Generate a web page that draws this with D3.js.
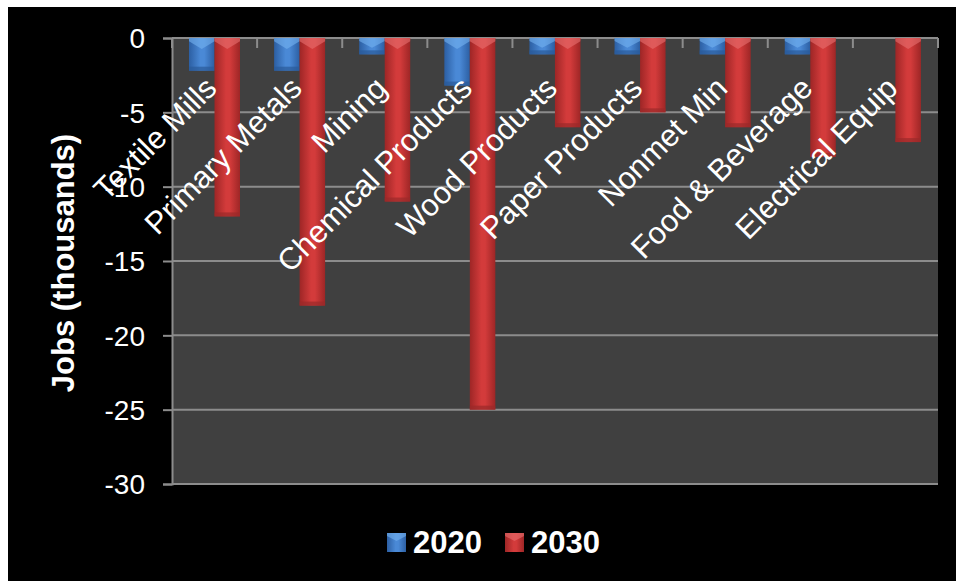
<!DOCTYPE html>
<html>
<head>
<meta charset="utf-8">
<script src="https://cdn.jsdelivr.net/npm/d3@7"></script>
<style>
  html, body { margin: 0; padding: 0; background: #ffffff; }
  svg { display: block; }
  text { font-family: "Liberation Sans", Arial, sans-serif; }
</style>
</head>
<body>
<svg id="chart" width="956" height="581"></svg>
<script>
// Projected change in jobs (thousands) by industry
const categories = ["Textile Mills", "Primary Metals", "Mining", "Chemical Products",
  "Wood Products", "Paper Products", "Nonmet Min", "Food & Beverage", "Electrical Equip"];
const seriesNames = ["2020", "2030"];
const jobs2020 = [-2.2, -2.2, -1.1, -3.2, -1.1, -1.1, -1.1, -1.1, 0];
const jobs2030 = [-12, -18, -11, -25, -6, -5, -6, -8, -7];
const yTicks = [0, -5, -10, -15, -20, -25, -30];

const svg = d3.select("#chart");
const W = 956, H = 581;
const plot = { left: 172, right: 938, top: 38, bottom: 484 };

// Black chart frame
svg.append("rect").attr("x", 8).attr("y", 7).attr("width", W - 8).attr("height", H - 7).attr("fill", "#000");

// Gradients for the bevelled bars
const defs = svg.append("defs");
const palettes = {
  "2020": { edge: "#2c5fa3", mid: "#4a89d6", hi: "#74b2f0", low: "#2a5a98" },
  "2030": { edge: "#9e2626", mid: "#d33b3b", hi: "#e87070", low: "#9a2a2a" }
};
seriesNames.forEach(s => {
  const g = defs.append("linearGradient").attr("id", "g" + s).attr("x1", 0).attr("x2", 1).attr("y1", 0).attr("y2", 0);
  g.append("stop").attr("offset", "0%").attr("stop-color", palettes[s].edge);
  g.append("stop").attr("offset", "45%").attr("stop-color", palettes[s].mid);
  g.append("stop").attr("offset", "60%").attr("stop-color", palettes[s].mid);
  g.append("stop").attr("offset", "100%").attr("stop-color", palettes[s].edge);
});

const x0 = d3.scaleBand().domain(categories).range([plot.left, plot.right]).padding(0);
const x1 = d3.scaleBand().domain(seriesNames).range([17, 68]).padding(0);
const y = d3.scaleLinear().domain([0, -30]).range([plot.top, plot.bottom]);

// Plot background
svg.append("rect").attr("x", plot.left).attr("y", plot.top)
  .attr("width", plot.right - plot.left).attr("height", plot.bottom - plot.top)
  .attr("fill", "#404040");

// Horizontal gridlines
svg.append("g").selectAll("line").data(yTicks).join("line")
  .attr("x1", plot.left).attr("x2", plot.right)
  .attr("y1", d => y(d)).attr("y2", d => y(d))
  .attr("stroke", "#8c8c8c").attr("stroke-width", 2);

// Y axis
const yAxis = svg.append("g").attr("transform", `translate(${plot.left},0)`)
  .call(d3.axisLeft(y).tickValues(yTicks).tickSize(9).tickPadding(18).tickFormat(d => String(d)));
yAxis.select(".domain").attr("stroke", "#8c8c8c").attr("stroke-width", 2);
yAxis.selectAll(".tick line").attr("stroke", "#8c8c8c").attr("stroke-width", 2);
yAxis.selectAll(".tick text").attr("fill", "#fff").attr("font-size", 28)
  .attr("font-family", "Liberation Sans, Arial, sans-serif").attr("dy", "0.35em");

// Category boundary ticks on the zero line
const bounds = categories.map(c => x0(c)).concat([plot.right]);
svg.append("g").selectAll("line").data(bounds).join("line")
  .attr("x1", d => d).attr("x2", d => d)
  .attr("y1", y(0)).attr("y2", y(0) + 10)
  .attr("stroke", "#8c8c8c").attr("stroke-width", 2);

// Bars
const rows = categories.map((c, i) => ({ cat: c, vals: [
  { s: "2020", v: jobs2020[i] }, { s: "2030", v: jobs2030[i] }] }));
const groups = svg.append("g").selectAll("g").data(rows).join("g")
  .attr("transform", d => `translate(${x0(d.cat)},0)`);
const bars = groups.selectAll("g.bar").data(d => d.vals.filter(e => e.v < 0)).join("g").attr("class", "bar");
bars.append("rect")
  .attr("x", d => x1(d.s)).attr("width", x1.bandwidth())
  .attr("y", y(0)).attr("height", d => y(d.v) - y(0))
  .attr("fill", d => `url(#g${d.s})`);
// bottom shading
bars.append("rect")
  .attr("x", d => x1(d.s)).attr("width", x1.bandwidth())
  .attr("y", d => y(d.v) - 4).attr("height", 4)
  .attr("fill", d => palettes[d.s].low).attr("opacity", 0.7);
// top bevel highlight
bars.append("path")
  .attr("d", d => {
    const a = x1(d.s), b = a + x1.bandwidth(), m = (a + b) / 2, t = y(0);
    const depth = Math.min(11, (y(d.v) - y(0)) * 0.6);
    return `M${a},${t}L${b},${t}L${b},${t + depth * 0.3}L${m},${t + depth}L${a},${t + depth * 0.3}Z`;
  })
  .attr("fill", d => palettes[d.s].hi).attr("opacity", 0.6);

// Rotated category labels
svg.append("g").selectAll("text").data(categories).join("text")
  .attr("transform", d => `translate(${x0(d) + x0.bandwidth() / 2 + 4},${y(0) + 52}) rotate(-45)`)
  .attr("text-anchor", "end")
  .attr("fill", "#fff").attr("font-size", 31)
  .text(d => d);

// Y axis title
svg.append("text")
  .attr("transform", `translate(74,263) rotate(-90)`)
  .attr("text-anchor", "middle").attr("fill", "#fff")
  .attr("font-size", 31).attr("font-weight", "bold")
  .text("Jobs (thousands)");

// Legend
const legend = svg.append("g").attr("transform", "translate(387,533)");
const items = legend.selectAll("g").data(seriesNames).join("g")
  .attr("transform", (d, i) => `translate(${i * 118},0)`);
items.append("rect").attr("width", 19).attr("height", 19).attr("fill", d => `url(#g${d})`);
items.append("path")
  .attr("d", "M0,0L19,0L19,3L9.5,8L0,3Z")
  .attr("fill", d => palettes[d].hi).attr("opacity", 0.6);
items.append("text").attr("x", 26).attr("y", 19.5)
  .attr("fill", "#fff").attr("font-size", 31).attr("font-weight", "bold")
  .text(d => d);
</script>
</body>
</html>
